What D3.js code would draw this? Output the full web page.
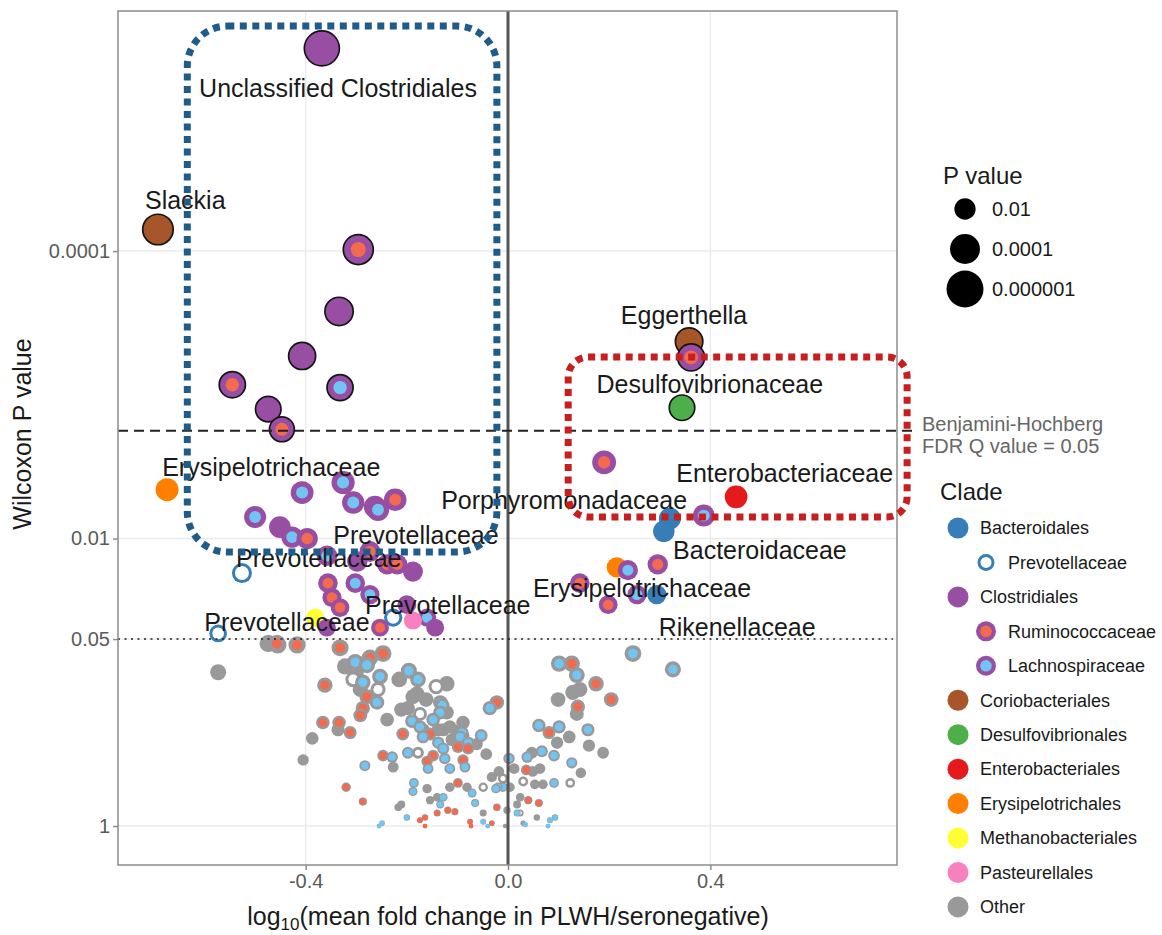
<!DOCTYPE html>
<html>
<head>
<meta charset="utf-8">
<title>Volcano plot</title>
<script src="https://cdn.jsdelivr.net/npm/d3@7/dist/d3.min.js"></script>
<style>
  body { margin: 0; background: #ffffff; }
  svg text { font-family: "Liberation Sans", Arial, Helvetica, sans-serif; }
</style>
</head>
<body>
<div id="volcano"></div>
<script>
// ---- data: [log10 fold change, -log10(Wilcoxon P)] ----

// order level clades
var clostridiales = [[-0.368,5.41],[-0.334,3.58],[-0.407,3.27],[-0.474,2.90],[-0.451,2.08],[-0.298,1.84],
  [-0.188,1.77],[-0.200,1.54],[-0.358,1.38],[-0.144,1.38]];
var bacteroidales = [[0.320,2.14],[0.308,2.05],[0.294,1.61]];
var coriobacteriales = [[-0.692,4.15],[0.358,3.37]];
var desulfovibrionales = [[0.344,2.91]];
var enterobacteriales = [[0.451,2.29]];
var erysipelotrichales = [[-0.674,2.34],[0.215,1.80]];
var methanobacteriales = [[-0.381,1.45]];
var pasteurellales = [[-0.188,1.43]];

// family level (inner colour), outer colour is the order when p < 0.05
var ruminococcaceae = [[-0.296,4.01],[-0.545,3.07],[-0.447,2.76],[0.362,3.26],[0.190,2.53],[-0.223,2.27],
  [-0.397,2.00],[-0.273,1.91],[-0.239,1.82],[-0.219,1.82],[-0.356,1.69],[-0.348,1.59],[-0.332,1.52],
  [-0.253,1.38],[0.296,1.82],[0.142,1.69],[0.198,1.54],
  [-0.457,1.27],[-0.417,1.26],[-0.332,1.24],[-0.273,1.17],[-0.247,1.20],[-0.362,0.98],[-0.279,0.90],
  [-0.287,0.82],[-0.292,0.77],[-0.366,0.72],[-0.334,0.72],[-0.312,0.65],[-0.208,0.64],[-0.154,0.64],
  [-0.099,0.55],[-0.079,0.54],[-0.148,0.49],[-0.160,0.45],[-0.089,0.46],[-0.247,0.49],[-0.022,0.86],
  [-0.320,0.27],[-0.287,0.17],[-0.119,0.11],[-0.105,0.10],[-0.099,0.30],[-0.022,0.13],[-0.140,0.09],
  [-0.164,0.06],[-0.032,0.02],[0.126,1.13],[0.174,0.99],[0.138,0.83],[0.204,0.88],[0.081,0.65],
  [0.036,0.39],[0.040,0.18],[0.061,0.16],[-0.174,0.04],[-0.075,0.03],[-0.164,0.00],[-0.073,0.00]];
var lachnospiraceae = [[-0.332,3.05],[0.387,2.16],[-0.326,2.39],[-0.407,2.32],[-0.306,2.25],[-0.263,2.22],
  [-0.257,2.20],[-0.500,2.15],[-0.427,2.01],[-0.358,1.88],[-0.302,1.69],[-0.273,1.61],[-0.160,1.45],
  [0.237,1.78],[0.255,1.61],
  [-0.302,1.14],[-0.279,1.12],[-0.287,1.00],[-0.253,1.04],[-0.259,0.86],[-0.196,1.08],[-0.178,1.02],
  [-0.134,0.86],[-0.190,0.73],[-0.148,0.74],[-0.174,0.69],[-0.168,0.62],[-0.091,0.65],[-0.053,0.63],
  [-0.079,0.58],[-0.138,0.58],[-0.128,0.54],[-0.198,0.51],[-0.125,0.47],[-0.085,0.41],[-0.229,0.48],
  [-0.283,0.42],[-0.115,0.40],[-0.158,0.40],[-0.036,0.82],[0.002,0.47],[-0.186,0.30],[-0.188,0.24],
  [-0.128,0.20],[-0.134,0.15],[-0.071,0.23],[-0.065,0.16],[-0.024,0.26],[-0.010,0.27],[-0.049,0.03],
  [-0.249,0.02],[-0.200,0.06],[0.101,1.13],[0.136,1.05],[0.061,0.70],[0.101,0.69],[0.158,0.67],
  [0.067,0.52],[0.038,0.48],[0.091,0.49],[0.126,0.44],[0.091,0.30],[0.018,0.09],[0.083,0.04],
  [0.093,0.06],[0.034,0.01],[0.247,1.20],[0.326,1.09],[-0.255,0.00],[0.079,0.00],[-0.040,0.00],
  [-0.130,0.84],[-0.134,0.79],[-0.095,0.62],[-0.020,0.27]];
var prevotellaceae = [[-0.526,1.76],[-0.227,1.45],[-0.573,1.34],
  [-0.306,1.02],[-0.257,0.95],[-0.142,0.97],[-0.174,0.78],[-0.178,0.51],[-0.049,0.27],[0.030,0.31],
  [0.123,0.30],[-0.010,0.33],[0.024,0.09]];

// everything else
var otherPts = [[-0.474,1.27],[-0.455,1.26],[-0.573,1.07],[-0.322,1.11],[-0.301,1.06],[-0.239,0.74],
  [-0.211,0.81],[-0.336,0.67],[-0.387,0.61],[-0.405,0.46],[-0.215,1.02],[-0.188,0.90],[-0.121,0.99],
  [-0.121,0.79],[-0.168,0.67],[-0.128,0.67],[-0.111,0.60],[-0.227,0.41],[-0.160,0.26],[-0.211,0.15],
  [-0.217,0.13],[-0.140,0.20],[-0.154,0.18],[-0.115,0.27],[-0.081,0.27],[-0.032,0.34],[-0.049,0.09],
  [-0.002,0.11],[0.128,0.93],[0.142,0.95],[0.099,0.88],[0.136,0.78],[0.121,0.62],[0.097,0.58],
  [0.160,0.56],[0.188,0.51],[0.047,0.51],[0.144,0.37],[0.063,0.40],[0.049,0.38],[0.053,0.29],
  [0.069,0.29],[0.024,0.20],[0.018,0.15],[0.057,0.06],[0.030,0.02],[-0.138,0.67],[-0.115,0.69],
  [-0.089,0.63],[-0.292,0.95],[-0.162,0.88],[-0.006,0.00],[-0.198,0.82],[-0.180,0.92],[-0.089,0.72],
  [-0.101,0.66],[-0.062,0.57],[-0.043,0.50],[0.012,0.40],[-0.018,0.38],[0.004,0.27]];

// legend entries and colours
var cladeNames = ["Bacteroidales","Prevotellaceae","Clostridiales","Ruminococcaceae","Lachnospiraceae",
  "Coriobacteriales","Desulfovibrionales","Enterobacteriales","Erysipelotrichales","Methanobacteriales",
  "Pasteurellales","Other"];
var cladeColors = ["#377eb8","#ffffff","#984ea3","#f46a4e","#72c5f2","#a65628","#4daf4a","#e41a1c",
  "#ff7f00","#ffff33","#f781bf","#999999"];
var familyParent = {Prevotellaceae: "Bacteroidales", Ruminococcaceae: "Clostridiales", Lachnospiraceae: "Clostridiales"};

var sizeBreaks = [0.01, 0.0001, 0.000001];
var sizeLabels = ["0.01", "0.0001", "0.000001"];

// y axis ticks (P values)
var yTickP = [0.0001, 0.01, 0.05, 1];
var yTickLabels = ["0.0001", "0.01", "0.05", "1"];
var xTicks = [-0.4, 0.0, 0.4];

var sigCut = -Math.log10(0.05);
var bhCut = 2.75;   // Benjamini-Hochberg Q = 0.05

// text labels [name, fold, -log10 P]
var labelText = ["Unclassified Clostridiales","Slackia","Eggerthella","Desulfovibrionaceae","Enterobacteriaceae",
  "Porphyromonadaceae","Bacteroidaceae","Erysipelotrichaceae","Rikenellaceae","Erysipelotrichaceae",
  "Prevotellaceae","Prevotellaceae","Prevotellaceae","Prevotellaceae"];
var labelFold = [-0.336,-0.638,0.348,0.399,0.547,0.111,0.498,0.265,0.453,-0.468,-0.182,-0.374,-0.119,-0.437];
var labelNegLogP = [5.134,4.355,3.555,3.075,2.456,2.268,1.920,1.656,1.384,2.497,2.024,1.864,1.537,1.419];

// highlight boxes [fold min, fold max, -log10P min, -log10P max]
var blueBox = [-0.634, -0.022, 1.906, 5.565];
var redBox = [0.119, 0.789, 2.150, 3.263];

//SVG dimension and position
var svgWidth = 1162;
var svgHeight = 935;
var margin = {top: 11, right: 265, bottom: 70, left: 118};
var width = svgWidth - margin.left - margin.right;
var height = svgHeight - margin.top - margin.bottom;

var svg = d3.select("#volcano")
  .append("svg")
  .attr("width", svgWidth)
  .attr("height", svgHeight);

var chartGroup = svg.append("g")
  .attr("transform", `translate(${margin.left}, ${margin.top})`);

var colorOf = function(name) { return cladeColors[cladeNames.indexOf(name)]; };

//Scales
var xScale = d3.scaleLinear().domain([-0.771, 0.769]).range([0, width]);
var yScale = d3.scaleLinear().domain([-0.271, 5.670]).range([height, 0]);
var rScale = d3.scalePow().exponent(0.6).domain([0, 6]).range([2.2, 18.5]).clamp(true);

//gather points
var groups = [
  ["Bacteroidales", null, bacteroidales],
  ["Bacteroidales", "Prevotellaceae", prevotellaceae],
  ["Clostridiales", null, clostridiales],
  ["Clostridiales", "Ruminococcaceae", ruminococcaceae],
  ["Clostridiales", "Lachnospiraceae", lachnospiraceae],
  ["Coriobacteriales", null, coriobacteriales],
  ["Desulfovibrionales", null, desulfovibrionales],
  ["Enterobacteriales", null, enterobacteriales],
  ["Erysipelotrichales", null, erysipelotrichales],
  ["Methanobacteriales", null, methanobacteriales],
  ["Pasteurellales", null, pasteurellales]
];
var points = [];
groups.forEach(function(g) {
  g[2].forEach(function(p) {
    points.push({order: g[0], family: g[1], fold: p[0], v: p[1]});
  });
});
points.sort((a, b) => b.v - a.v);
var greyPts = otherPts.map(p => ({order: "Other", family: null, fold: p[0], v: p[1]}));
points = greyPts.concat(points);

//grid
chartGroup.append("g").selectAll("line")
  .data(xTicks).enter().append("line")
  .attr("x1", d => xScale(d)).attr("x2", d => xScale(d))
  .attr("y1", 0).attr("y2", height)
  .attr("stroke", "#ebebeb").attr("stroke-width", 1.5);
chartGroup.append("g").selectAll("line")
  .data(yTickP).enter().append("line")
  .attr("x1", 0).attr("x2", width)
  .attr("y1", d => yScale(-Math.log10(d))).attr("y2", d => yScale(-Math.log10(d)))
  .attr("stroke", "#ebebeb").attr("stroke-width", 1.5);

//points
var node = chartGroup.append("g").selectAll("g")
  .data(points).enter().append("g")
  .attr("transform", d => `translate(${xScale(d.fold)}, ${yScale(d.v)})`);

node.append("circle")
  .attr("r", d => rScale(d.v))
  .attr("fill", d => d.v >= sigCut ? colorOf(d.order) : colorOf("Other"))
  .attr("stroke", d => d.v >= bhCut ? "#151515" : "none")
  .attr("stroke-width", 1.7);

node.filter(d => d.family).append("circle")
  .attr("r", function(d) {
    var R = rScale(d.v);
    return d.family == "Prevotellaceae" ? Math.max(R - 3, R * 0.5) : 0.4 * R + 1.5;
  })
  .attr("fill", d => colorOf(d.family));

//reference lines
chartGroup.append("line")
  .attr("x1", xScale(0)).attr("x2", xScale(0))
  .attr("y1", 0).attr("y2", height)
  .attr("stroke", "#555555").attr("stroke-width", 3);

chartGroup.append("line")
  .attr("x1", 0).attr("x2", width + 20)
  .attr("y1", yScale(bhCut)).attr("y2", yScale(bhCut))
  .attr("stroke", "#222222").attr("stroke-width", 2)
  .attr("stroke-dasharray", "10,6");

chartGroup.append("line")
  .attr("x1", 0).attr("x2", width - 4)
  .attr("y1", yScale(sigCut)).attr("y2", yScale(sigCut))
  .attr("stroke", "#222222").attr("stroke-width", 1.6)
  .attr("stroke-dasharray", "2,4.5");

//panel border
chartGroup.append("rect")
  .attr("width", width).attr("height", height)
  .attr("fill", "none").attr("stroke", "#8c8c8c").attr("stroke-width", 1.5);

//Axes
var bottomAxis = d3.axisBottom(xScale).tickValues(xTicks).tickFormat(d => d.toFixed(1)).tickSize(5).tickPadding(4);
var leftAxis = d3.axisLeft(yScale)
  .tickValues(yTickP.map(p => -Math.log10(p)))
  .tickFormat((d, i) => yTickLabels[i])
  .tickSize(5).tickPadding(3);

var xAxisG = chartGroup.append("g")
  .attr("transform", `translate(0, ${height})`)
  .call(bottomAxis);
var yAxisG = chartGroup.append("g").call(leftAxis);

[xAxisG, yAxisG].forEach(function(a) {
  a.select(".domain").remove();
  a.selectAll(".tick line").attr("stroke", "#8c8c8c").attr("stroke-width", 1.5);
  a.selectAll(".tick text").attr("fill", "#5a5a5a").style("font-size", "20px")
    .style("font-family", "'Liberation Sans', Arial, sans-serif");
});

// Axis titles
chartGroup.append("text")
  .attr("transform", "rotate(-90)")
  .attr("x", 0 - (height / 2) + 4)
  .attr("y", 0 - margin.left + 22)
  .attr("dy", "0.35em")
  .attr("text-anchor", "middle")
  .attr("fill", "#1a1a1a")
  .style("font-size", "25px")
  .text("Wilcoxon P value");

var xTitle = chartGroup.append("text")
  .attr("x", xScale(0))
  .attr("y", height + 51)
  .attr("dy", "0.35em")
  .attr("text-anchor", "middle")
  .attr("fill", "#1a1a1a")
  .style("font-size", "25px");
xTitle.append("tspan").text("log");
xTitle.append("tspan").attr("dy", "5").style("font-size", "17px").text("10");
xTitle.append("tspan").attr("dy", "-5").text("(mean fold change in PLWH/seronegative)");

//point labels
chartGroup.append("g").selectAll("text")
  .data(labelText).enter().append("text")
  .attr("x", (d, i) => xScale(labelFold[i]))
  .attr("y", (d, i) => yScale(labelNegLogP[i]))
  .attr("dy", "0.35em")
  .attr("text-anchor", "middle")
  .attr("fill", "#1a1a1a")
  .style("font-size", "25px")
  .text(d => d);

//highlight boxes
chartGroup.append("rect")
  .attr("x", xScale(blueBox[0])).attr("y", yScale(blueBox[3]))
  .attr("width", xScale(blueBox[1]) - xScale(blueBox[0]))
  .attr("height", yScale(blueBox[2]) - yScale(blueBox[3]))
  .attr("rx", 40).attr("ry", 40)
  .attr("fill", "none").attr("stroke", "#1f5c8a").attr("stroke-width", 7)
  .attr("stroke-dasharray", "7,5.5");

chartGroup.append("rect")
  .attr("x", xScale(redBox[0])).attr("y", yScale(redBox[3]))
  .attr("width", xScale(redBox[1]) - xScale(redBox[0]))
  .attr("height", yScale(redBox[2]) - yScale(redBox[3]))
  .attr("rx", 20).attr("ry", 20)
  .attr("fill", "none").attr("stroke", "#c81e1e").attr("stroke-width", 7)
  .attr("stroke-dasharray", "7,5.5");

//BH annotation
var bhText = svg.append("text")
  .attr("x", 922)
  .attr("y", margin.top + yScale(bhCut) - 7)
  .attr("fill", "#666666")
  .style("font-size", "20px");
bhText.append("tspan").attr("x", 922).attr("dy", "0.35em").text("Benjamini-Hochberg");
bhText.append("tspan").attr("x", 922).attr("dy", "1.1em").text("FDR Q value = 0.05");

//size legend
var sizeLegend = svg.append("g").attr("transform", "translate(943, 176)");
sizeLegend.append("text").attr("dy", "0.35em").attr("fill", "#1a1a1a")
  .style("font-size", "24px").text("P value");
sizeBreaks.forEach(function(p, i) {
  var cy = 33 + i * 40;
  sizeLegend.append("circle").attr("cx", 22).attr("cy", cy)
    .attr("r", rScale(-Math.log10(p))).attr("fill", "#000000");
  sizeLegend.append("text").attr("x", 49).attr("y", cy).attr("dy", "0.35em")
    .attr("fill", "#1a1a1a").style("font-size", "20px").text(sizeLabels[i]);
});

//clade legend
var cladeLegend = svg.append("g").attr("transform", "translate(940, 492)");
cladeLegend.append("text").attr("dy", "0.35em").attr("fill", "#1a1a1a")
  .style("font-size", "24px").text("Clade");
cladeNames.forEach(function(name, i) {
  var cy = 36 + i * 34.45;
  var parent = familyParent[name];
  var item = cladeLegend.append("g").attr("transform", `translate(${parent ? 46 : 18}, ${cy})`);
  if (parent) {
    var R = name == "Prevotellaceae" ? 8.5 : 10;
    item.append("circle").attr("r", R).attr("fill", colorOf(parent));
    item.append("circle").attr("r", name == "Prevotellaceae" ? 5.5 : 5.8).attr("fill", colorOf(name));
  } else {
    item.append("circle").attr("r", 10.5).attr("fill", colorOf(name));
  }
  item.append("text").attr("x", 22).attr("dy", "0.35em")
    .attr("fill", "#1a1a1a").style("font-size", "18px").text(name);
});
</script>
</body>
</html>
